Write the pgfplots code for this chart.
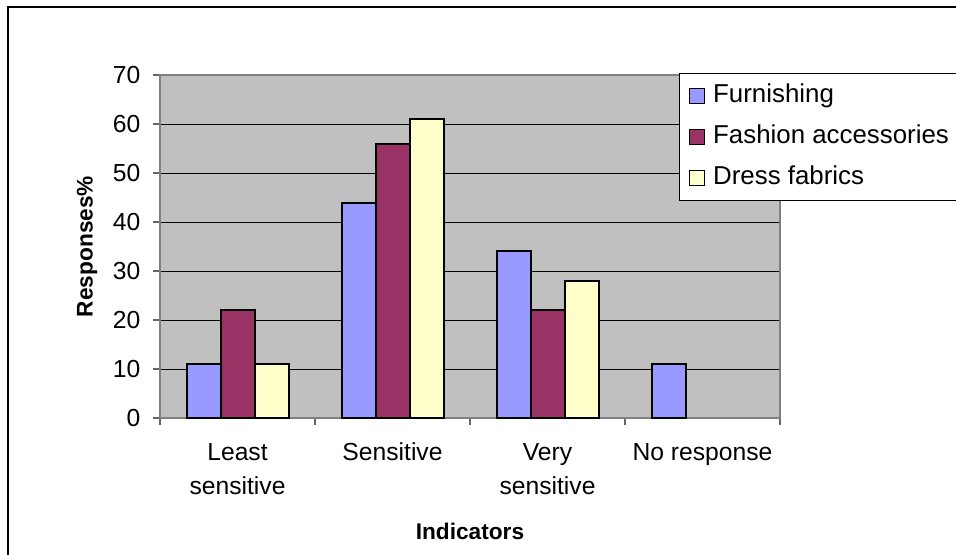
\documentclass[border=0pt]{standalone}
\usepackage{fontspec}
\setmainfont{Liberation Sans}
\usepackage{pgfplots}
\pgfplotsset{compat=1.18}
\definecolor{furn}{HTML}{9999FF}
\definecolor{fash}{HTML}{993366}
\definecolor{dress}{HTML}{FFFFCC}
\definecolor{plotbg}{HTML}{C0C0C0}
\definecolor{axgray}{HTML}{808080}
\begin{document}
\begin{tikzpicture}
\useasboundingbox (0pt,0pt) rectangle (717pt,415.5pt);
\draw[black, line width=0.9pt] (6pt,-5pt) -- (6pt,410.25pt) -- (725pt,410.25pt);
\begin{axis}[
  at={(120pt,102pt)}, anchor=south west,
  scale only axis, width=465pt, height=257.25pt,
  xmin=-0.5, xmax=3.5, ymin=0, ymax=70,
  ytick={0,10,...,70},
  xtick={-0.5,0.5,1.5,2.5,3.5},
  xtick pos=bottom, ytick pos=left,
  x tick label as interval=true,
  xticklabels={Least\\sensitive, Sensitive, Very\\sensitive, No response},
  xticklabel style={align=center, font=\fontsize{18.5}{26}\selectfont, yshift=-10pt},
  yticklabel style={font=\fontsize{18.5}{22}\selectfont, xshift=-6pt},
  /pgf/number format/assume math mode=true,
  ymajorgrids, grid style={black, line width=0.75pt},
  axis background/.style={fill=plotbg},
  axis line style={axgray, line width=1.2pt},
  tick style={black!60, line width=1pt},
  tick align=outside, major tick length=5.25pt,
  ybar=0pt, bar width=25.5pt,
  xlabel={Indicators}, ylabel={Responses\%},
  label style={font=\bfseries\fontsize{17}{20}\selectfont},
  xlabel style={at={(axis description cs:0.5,-0.332)}, anchor=center},
  ylabel style={at={(axis description cs:-0.1177,0.5)}, anchor=center},
  legend image code/.code={\draw[#1, line width=1.1pt] (0pt,-5.6pt) rectangle (11.25pt,5.6pt); \path (17pt,0pt);},
  legend style={at={(0.837,1.006)}, anchor=north west, draw=black, line width=0.75pt, fill=white,
    font=\fontsize{19.4}{22}\selectfont, row sep=12.75pt, inner xsep=7pt, inner ysep=8pt,
    nodes={inner sep=0pt, text height=14pt, text depth=4pt}},
  legend cell align=left,
]
\addplot[draw=black, line width=1.5pt, fill=furn] coordinates {(0,11) (1,43.8) (2,34) (3,11)};
\addplot[draw=black, line width=1.5pt, fill=fash] coordinates {(0,22) (1,56) (2,22)};
\addplot[draw=black, line width=1.5pt, fill=dress] coordinates {(0,11) (1,61) (2,28)};
\legend{Furnishing, Fashion accessories, Dress fabrics}
\end{axis}
\end{tikzpicture}
\end{document}
